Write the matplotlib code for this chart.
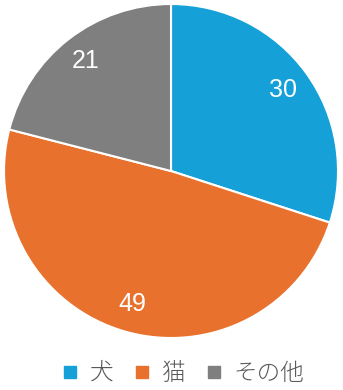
import matplotlib
matplotlib.use("Agg")
import matplotlib.pyplot as plt

categories = ["犬", "猫", "その他"]
values = [30, 49, 21]
colors = ["#15A0D8", "#E8722D", "#7F7F7F"]

fig = plt.figure(figsize=(3.43, 3.90), dpi=100)
ax = fig.add_axes([0.0117, 0.1333, 0.9738, 0.8564])
wedges, texts = ax.pie(values, labels=[str(v) for v in values], colors=colors,
                       startangle=90, counterclock=False, labeldistance=0.83,
                       wedgeprops=dict(edgecolor="white", linewidth=1.5),
                       textprops=dict(color="white", fontsize=18, family="Liberation Sans"))
for t in texts:
    t.set_ha("center"); t.set_va("center")
ax.set_aspect("equal")
ax.set_xlim(-1, 1); ax.set_ylim(-1, 1)
ax.axis("off")

handles = [plt.Line2D([], [], marker="s", linestyle="none", markersize=8,
                      markerfacecolor=c, markeredgecolor=c) for c in colors]
leg = fig.legend(handles, categories, loc="center", bbox_to_anchor=(0.535, 0.042),
                 ncol=3, frameon=False, handlelength=0.6, handletextpad=0.55,
                 columnspacing=0.9,
                 prop=dict(family=["Noto Sans CJK JP", "DejaVu Sans"], size=17,
                           weight="light"))
for t in leg.get_texts():
    t.set_color("#595959")
fig.savefig("out.png", dpi=100)
